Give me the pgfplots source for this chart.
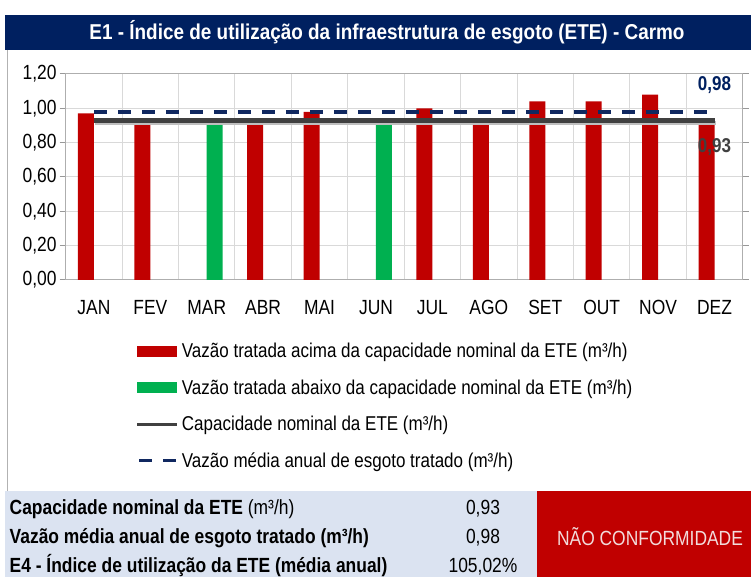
\documentclass[border=0pt]{standalone}
\usepackage{fontspec}
\setmainfont[FakeStretch=0.85]{Liberation Sans}
\newfontfamily\titlefont[FakeStretch=0.88]{Liberation Sans}
\usepackage{pgfplots}
\pgfplotsset{compat=1.18}
\definecolor{cred}{RGB}{192,0,0}
\definecolor{cgreen}{RGB}{0,176,80}
\definecolor{cnavy}{RGB}{0,32,96}
\definecolor{cdash}{RGB}{16,40,96}
\definecolor{cline}{RGB}{64,64,64}
\definecolor{cgrid}{RGB}{217,217,217}
\definecolor{ctable}{RGB}{219,227,241}
\definecolor{cpink}{RGB}{242,220,219}
\begin{document}
\begin{tikzpicture}[x=1pt,y=1pt]
\useasboundingbox (0,0) rectangle (751,577);
\fill[white] (0,0) rectangle (751,577);
\fill[cnavy] (5,527) rectangle (751,562);
\node[text=white, font=\titlefont\fontsize{21.5}{21.5}\selectfont\bfseries] at (387,544.5) {E1 - Índice de utilização da infraestrutura de esgoto (ETE) - Carmo};
\draw[gray!60, line width=1pt] (7,527) -- (7,86);
\fill[ctable] (5,0) rectangle (537,86);
\fill[cred] (537,0) rectangle (751,86);
\begin{scope}[font=\fontsize{20.5}{20.5}\selectfont]
\node[anchor=base west, inner sep=0pt] at (9.5,62) {\textbf{Capacidade nominal da ETE} (m³/h)};
\node[anchor=base west, inner sep=0pt] at (9.5,33) {\textbf{Vazão média anual de esgoto tratado (m³/h)}};
\node[anchor=base west, inner sep=0pt] at (9.5,4) {\textbf{E4 - Índice de utilização da ETE (média anual)}};
\node[anchor=base, inner sep=0pt] at (483,62) {0,93};
\node[anchor=base, inner sep=0pt] at (483,33) {0,98};
\node[anchor=base, inner sep=0pt] at (483,4) {105,02\%};
\node[anchor=center, inner sep=0pt, text=cpink] at (650,40) {NÃO CONFORMIDADE};
\end{scope}
\begin{axis}[
  at={(65.7pt,297pt)}, anchor=south west,
  scale only axis, width=677pt, height=206pt,
  xmin=0.5, xmax=12.5, ymin=0, ymax=1.2,
  xtick={1,...,12},
  xticklabels={JAN,FEV,MAR,ABR,MAI,JUN,JUL,AGO,SET,OUT,NOV,DEZ},
  ytick={0,0.2,0.4,0.6,0.8,1.0,1.2},
  minor xtick={1.5,2.5,...,11.5},
  xminorgrids, ymajorgrids,
  grid style={cgrid, line width=1pt},
  minor grid style={cgrid, line width=1pt},
  axis line style={cgrid!80!black, line width=1pt},
  tick align=outside,
  x tick style={draw=none},
  minor x tick style={draw=none},
  y tick style={cgrid!70!black, line width=1pt},
  major tick length=6pt,
  tick label style={font=\fontsize{20.5}{20.5}\selectfont},
  xticklabel style={inner sep=0pt, anchor=north, yshift=-14pt},
  yticklabel style={inner sep=0pt, anchor=east, xshift=-3pt},
  /pgf/number format/assume math mode=true,
  yticklabel={\pgfmathprintnumber[fixed,fixed zerofill,precision=2,use comma]{\tick}},
  legend style={at={(0.103,-0.305)}, anchor=north west, draw=none, fill=none,
    font=\fontsize{20}{20}\selectfont, row sep=20.5pt, inner sep=0pt,
    nodes={inner xsep=3pt, inner ysep=0pt}},
  legend cell align=left,
  clip=false,
]
\addplot[ybar, bar width=16pt, bar shift=-8pt, fill=cred, draw=none,
  legend image code/.code={\fill[cred] (0pt,-5.5pt) rectangle (40pt,5.5pt);}]
  coordinates {(1,0.97) (2,0.94) (4,0.94) (5,0.98) (7,1.00) (8,0.94) (9,1.04) (10,1.04) (11,1.08) (12,0.94)};
\addlegendentry{Vazão tratada acima da capacidade nominal da ETE (m³/h)}
\addplot[ybar, bar width=16pt, bar shift=8pt, fill=cgreen, draw=none,
  legend image code/.code={\fill[cgreen] (0pt,-5.5pt) rectangle (40pt,5.5pt);}]
  coordinates {(3,0.92) (6,0.91)};
\addlegendentry{Vazão tratada abaixo da capacidade nominal da ETE (m³/h)}
\addplot[forget plot, black!25, line width=4pt, yshift=-2.5pt, xshift=1.5pt] coordinates {(1,0.93) (12,0.93)};
\addplot[cline, line width=5pt,
  legend image code/.code={\draw[cline, line width=3pt] (0pt,0pt) -- (40pt,0pt);}]
  coordinates {(1,0.93) (12,0.93)};
\addlegendentry{Capacidade nominal da ETE (m³/h)}
\addplot[cdash, line width=4pt, dash pattern=on 13pt off 11pt,
  legend image code/.code={\draw[cdash, line width=3.5pt, dash pattern=on 13pt off 11pt] (2pt,0pt) -- (40pt,0pt);}]
  coordinates {(1,0.977) (12,0.977)};
\addlegendentry{Vazão média anual de esgoto tratado (m³/h)}
\node[font=\fontsize{20}{20}\selectfont\bfseries, text=cnavy] at (axis cs:12,1.136) {0,98};
\node[font=\fontsize{20}{20}\selectfont\bfseries, text=cline] at (axis cs:12,0.775) {0,93};
\end{axis}
\end{tikzpicture}
\end{document}
